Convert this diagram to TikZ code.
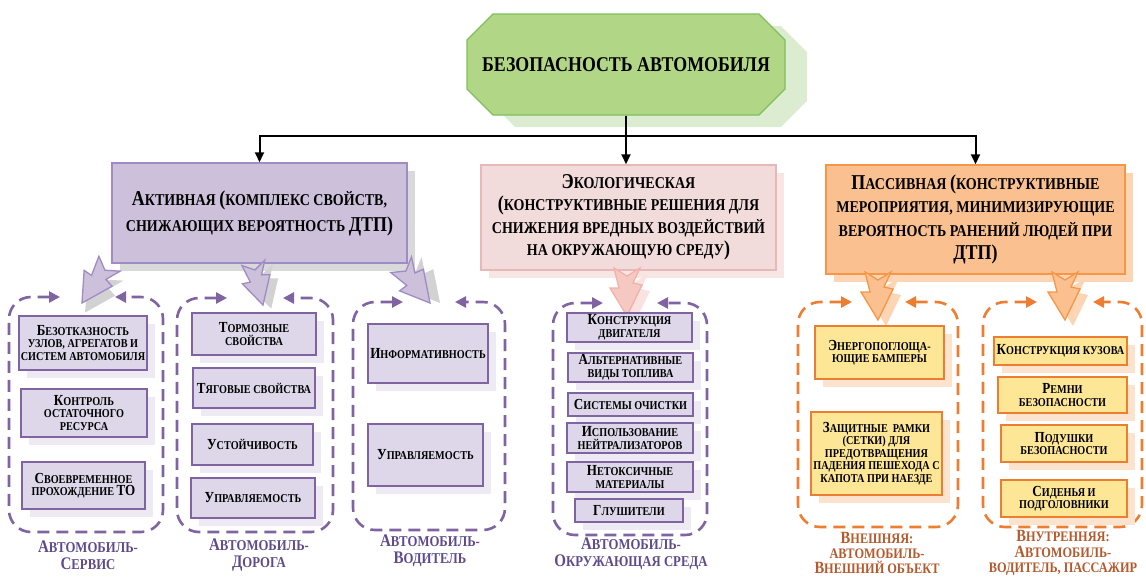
\documentclass[tikz,border=0pt]{standalone}
\usepackage{fontspec}
\setmainfont{Liberation Serif}[FakeStretch=0.85]
\usepackage{graphicx}
\usetikzlibrary{arrows.meta,shapes.misc,shadows}
\newcommand\BL[1]{\scalebox{1.28}{#1}}
\newcommand\BC[1]{\scalebox{1.18}{#1}}
\definecolor{TFill}{HTML}{B1D686}
\definecolor{TBord}{HTML}{7EBF5C}
\definecolor{TShad}{HTML}{DCECD0}
\definecolor{AFill}{HTML}{CCC0DA}
\definecolor{ABord}{HTML}{A08CC4}
\definecolor{AShad}{HTML}{D9D9D9}
\definecolor{EFill}{HTML}{F2DCDB}
\definecolor{EBord}{HTML}{E6B8B7}
\definecolor{EShad}{HTML}{F8E6E5}
\definecolor{PFill}{HTML}{FAC090}
\definecolor{PBord}{HTML}{F79646}
\definecolor{PShad}{HTML}{FCD5B4}
\definecolor{IPFill}{HTML}{DDD7E9}
\definecolor{IPBord}{HTML}{8064A2}
\definecolor{IPShad}{HTML}{EDEAF3}
\definecolor{IOFill}{HTML}{FDE696}
\definecolor{IOBord}{HTML}{ED7D31}
\definecolor{IOShad}{HTML}{FBE3CD}
\definecolor{GPur}{HTML}{8064A2}
\definecolor{GOra}{HTML}{ED7D31}
\definecolor{CPur}{HTML}{5F4B8B}
\definecolor{COra}{HTML}{B45A2D}
\definecolor{ArPFill}{HTML}{CCC0DA}
\definecolor{ArPBord}{HTML}{A08CC4}
\definecolor{ArPShad}{HTML}{D2D2D2}
\definecolor{ArEFill}{HTML}{F5C9C2}
\definecolor{ArEBord}{HTML}{F0B2AA}
\definecolor{ArEShad}{HTML}{F9E2DF}
\definecolor{ArOFill}{HTML}{FAC090}
\definecolor{ArOBord}{HTML}{F79646}
\definecolor{ArOShad}{HTML}{FCD5B4}
\tikzset{
  conn/.style={line width=2pt, -{Triangle[length=10pt,width=9pt]}},
  bigbox/.style={line width=1.5pt, inner sep=0pt, align=center, text=black},
  actbox/.style={bigbox, draw=ABord, fill=AFill,
    font=\fontsize{16.5}{26}\selectfont\bfseries,
    drop shadow={shadow xshift=8pt, shadow yshift=-8pt, fill=AShad, opacity=1}},
  ecobox/.style={bigbox, draw=EBord, fill=EFill,
    font=\fontsize{16.5}{22.5}\selectfont\bfseries,
    drop shadow={shadow xshift=8pt, shadow yshift=-8pt, fill=EShad, opacity=1}},
  pasbox/.style={bigbox, draw=PBord, fill=PFill,
    font=\fontsize{16.5}{23.5}\selectfont\bfseries,
    drop shadow={shadow xshift=8pt, shadow yshift=-8pt, fill=PShad, opacity=1}},
  ibox/.style={line width=1.3pt, inner sep=0pt, align=center, text=black,
    font=\fontsize{12}{12.6}\selectfont\bfseries},
  pibox/.style={ibox, draw=IPBord, fill=IPFill,
    drop shadow={shadow xshift=8pt, shadow yshift=-8pt, fill=IPShad, opacity=1}},
  oibox/.style={ibox, draw=IOBord, fill=IOFill,
    drop shadow={shadow xshift=8pt, shadow yshift=-8pt, fill=IOShad, opacity=1}},
  grp/.style={line width=2.6pt, dash pattern=on 12pt off 7pt, rounded corners=22pt,
    {Triangle[length=11pt,width=11pt]}-{Triangle[length=11pt,width=11pt]}},
  grpP/.style={grp, draw=GPur},
  grpO/.style={grp, draw=GOra},
  capt/.style={align=center, inner sep=0pt, font=\fontsize{15}{16.5}\selectfont\bfseries},
  capt3/.style={align=center, inner sep=0pt, font=\fontsize{14.5}{15.2}\selectfont\bfseries},
  capP/.style={capt, text=CPur},
  capO/.style={capt3, text=COra},
  arrshadow/.style={fill=ArPShad},
  arrbody/.style={fill=ArPFill, draw=ArPBord, line width=1.3pt},
  zarrow/.pic={
    \fill[arrshadow] (8,6) -- (-9,-22) -- (0,-22) -- (-5,-42) -- (8,-34) -- (21,-42) -- (14,-27) -- (23,-25) -- cycle;
    \filldraw[arrbody] (0,0) -- (-17,-28) -- (-8,-28) -- (-13,-48) -- (0,-40) -- (13,-48) -- (6,-33) -- (15,-31) -- cycle;
  }
}
\begin{document}
\lineskiplimit=-20pt
\begin{tikzpicture}[x=1pt,y=-1pt]
\fill[white] (0,0) rectangle (1146,576);
\useasboundingbox (0,0) rectangle (1146,576);

% dashed groups
\draw[grpP] (60,297) -- (9,297) -- (9,532) -- (163,532) -- (163,297) -- (115,297);
\draw[grpP] (227,298) -- (177,298) -- (177,532) -- (333,532) -- (333,298) -- (283,298);
\draw[grpP] (403,302) -- (353,302) -- (353,530) -- (505,530) -- (505,302) -- (455,302);
\draw[grpP] (603,303) -- (553,303) -- (553,535) -- (707,535) -- (707,303) -- (657,303);
\draw[grpO] (852,302) -- (798,302) -- (798,527) -- (958,527) -- (958,302) -- (905,302);
\draw[grpO] (1037,302) -- (983,302) -- (983,527) -- (1142,527) -- (1142,302) -- (1093,302);

% title
\node[chamfered rectangle, chamfered rectangle xsep=18pt, chamfered rectangle ysep=19pt,
  draw=TBord, fill=TFill, line width=1.3pt, minimum width=318pt, minimum height=101pt, inner sep=0pt,
  font=\fontsize{21}{24}\selectfont\bfseries,
  drop shadow={shadow xshift=22pt, shadow yshift=-12pt, fill=TShad, opacity=1}]
  (title) at (626,64.5) {БЕЗОПАСНОСТЬ АВТОМОБИЛЯ};

% main boxes
\node[actbox, minimum width=295pt, minimum height=100pt] (active) at (259.5,213)
  {\BL{А}КТИВНАЯ \BL{(}КОМПЛЕКС СВОЙСТВ,\\СНИЖАЮЩИХ ВЕРОЯТНОСТЬ \BL{ДТП)}};
\node[ecobox, minimum width=295pt, minimum height=105pt] (eco) at (628.5,217.5)
  {\BL{Э}КОЛОГИЧЕСКАЯ\\\BL{(}КОНСТРУКТИВНЫЕ РЕШЕНИЯ ДЛЯ\\СНИЖЕНИЯ ВРЕДНЫХ ВОЗДЕЙСТВИЙ\\НА ОКРУЖАЮЩУЮ СРЕДУ\BL{)}};
\node[pasbox, minimum width=299pt, minimum height=109pt] (passive) at (975.5,219.5)
  {\BL{П}АССИВНАЯ \BL{(}КОНСТРУКТИВНЫЕ\\МЕРОПРИЯТИЯ, МИНИМИЗИРУЮЩИЕ\\ВЕРОЯТНОСТЬ РАНЕНИЙ ЛЮДЕЙ ПРИ\\\BL{ДТП)}};

% connectors
\draw[conn] (title.south) -- ++(0,20) -| (active.north);
\draw[conn] (title.south) -- (title.south |- eco.north);
\draw[conn] (title.south) -- ++(0,20) -| (passive.north);

% big arrows
\pic[rotate=-35] at (82,303) {zarrow};
\pic[rotate=13, scale=0.9] at (263,305) {zarrow};
\pic[rotate=37] at (430,303) {zarrow};
\begin{scope}[arrshadow/.style={fill=ArEShad}, arrbody/.style={fill=ArEFill, draw=ArEBord, line width=1.3pt}]
\pic at (627,316) {zarrow};
\end{scope}
\begin{scope}[arrshadow/.style={fill=ArOShad}, arrbody/.style={fill=ArOFill, draw=ArOBord, line width=1.3pt}]
\pic at (878,320) {zarrow};
\pic at (1065,320) {zarrow};
\end{scope}

% group 1
\node[pibox, minimum width=128pt, minimum height=54pt] (s1) at (83,343)
  {\BL{Б}ЕЗОТКАЗНОСТЬ\\УЗЛОВ, АГРЕГАТОВ И\\СИСТЕМ АВТОМОБИЛЯ};
\node[pibox, minimum width=126pt, minimum height=48pt] (s2) at (84,413)
  {\BL{К}ОНТРОЛЬ\\ОСТАТОЧНОГО\\РЕСУРСА};
\node[pibox, minimum width=123pt, minimum height=47pt] (s3) at (83.5,485.5)
  {\BL{С}ВОЕВРЕМЕННОЕ\\ПРОХОЖДЕНИЕ \BL{ТО}};
% group 2
\node[pibox, minimum width=124pt, minimum height=42pt] (r1) at (254,334)
  {\BL{Т}ОРМОЗНЫЕ\\СВОЙСТВА};
\node[pibox, minimum width=122pt, minimum height=40pt] (r2) at (254,388)
  {\BL{Т}ЯГОВЫЕ СВОЙСТВА};
\node[pibox, minimum width=121pt, minimum height=41pt] (r3) at (252.5,444.5)
  {\BL{У}СТОЙЧИВОСТЬ};
\node[pibox, minimum width=124pt, minimum height=40pt] (r4) at (253,498)
  {\BL{У}ПРАВЛЯЕМОСТЬ};
% group 3
\node[pibox, minimum width=120pt, minimum height=59pt] (d1) at (428,353.5)
  {\BL{И}НФОРМАТИВНОСТЬ};
\node[pibox, minimum width=115pt, minimum height=62pt] (d2) at (425.5,455)
  {\BL{У}ПРАВЛЯЕМОСТЬ};
% group 4
\node[pibox, minimum width=125pt, minimum height=29pt] (e1) at (629.5,327.5)
  {\BL{К}ОНСТРУКЦИЯ\\ДВИГАТЕЛЯ};
\node[pibox, minimum width=125pt, minimum height=29pt] (e2) at (630.5,367.5)
  {\BL{А}ЛЬТЕРНАТИВНЫЕ\\ВИДЫ ТОПЛИВА};
\node[pibox, minimum width=125pt, minimum height=23pt] (e3) at (630.5,404.5)
  {\BL{С}ИСТЕМЫ ОЧИСТКИ};
\node[pibox, minimum width=126pt, minimum height=30pt] (e4) at (630,438)
  {\BL{И}СПОЛЬЗОВАНИЕ\\НЕЙТРАЛИЗАТОРОВ};
\node[pibox, minimum width=126pt, minimum height=30pt] (e5) at (630,477)
  {\BL{Н}ЕТОКСИЧНЫЕ\\МАТЕРИАЛЫ};
\node[pibox, minimum width=108pt, minimum height=23pt] (e6) at (629,510.5)
  {\BL{Г}ЛУШИТЕЛИ};
% group 5
\node[oibox, minimum width=129pt, minimum height=53pt] (x1) at (879.5,352.5)
  {\BL{Э}НЕРГОПОГЛОЩА-\\ЮЩИЕ БАМПЕРЫ};
\node[oibox, minimum width=131pt, minimum height=83pt] (x2) at (876.5,453.5)
  {\BL{З}АЩИТНЫЕ\ \ РАМКИ\\(СЕТКИ) ДЛЯ\\ПРЕДОТВРАЩЕНИЯ\\ПАДЕНИЯ ПЕШЕХОДА С\\КАПОТА ПРИ НАЕЗДЕ};
% group 6
\node[oibox, minimum width=133pt, minimum height=28pt] (i1) at (1060.5,351)
  {\BL{К}ОНСТРУКЦИЯ КУЗОВА};
\node[oibox, minimum width=129pt, minimum height=36pt] (i2) at (1062.5,395)
  {\BL{Р}ЕМНИ\\БЕЗОПАСНОСТИ};
\node[oibox, minimum width=126pt, minimum height=37pt] (i3) at (1064,443.5)
  {\BL{П}ОДУШКИ\\БЕЗОПАСНОСТИ};
\node[oibox, minimum width=126pt, minimum height=37pt] (i4) at (1064,498.5)
  {\BL{С}ИДЕНЬЯ И\\ПОДГОЛОВНИКИ};

% captions
\node[capP] (c1) at (88,555) {\BC{А}ВТОМОБИЛЬ-\\\BC{С}ЕРВИС};
\node[capP] (c2) at (259,555) {\BC{А}ВТОМОБИЛЬ-\\\BC{Д}ОРОГА};
\node[capP] (c3) at (430,550.5) {\BC{А}ВТОМОБИЛЬ-\\\BC{В}ОДИТЕЛЬ};
\node[capP] (c4) at (631,553.5) {\BC{А}ВТОМОБИЛЬ-\\\BC{О}КРУЖАЮЩАЯ СРЕДА};
\node[capO] (c5) at (877,553) {\BC{В}НЕШНЯЯ:\\АВТОМОБИЛЬ-\\\BC{В}НЕШНИЙ ОБЪЕКТ};
\node[capO] (c6) at (1063,553) {\BC{В}НУТРЕННЯЯ:\\\BC{А}ВТОМОБИЛЬ-\\ВОДИТЕЛЬ, ПАССАЖИР};
\end{tikzpicture}
\end{document}
